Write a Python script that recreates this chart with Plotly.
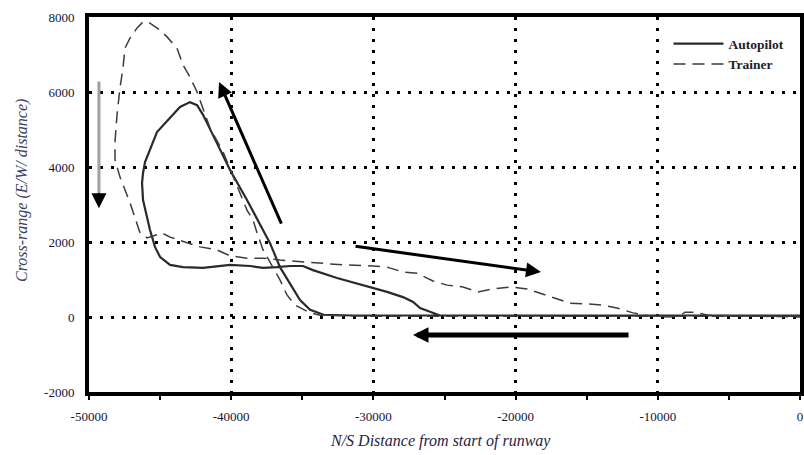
import plotly.graph_objects as go

# ---- data ----
autopilot_x = [0, -5000, -10000, -15000, -20000, -25000, -30000, -31400, -33500, -34450,
               -35160, -35860, -36570, -37270, -37760, -38890, -40080, -40790, -41280,
               -41980, -42400, -42900, -43600, -45220, -46060, -46200, -46270, -46200,
               -45710, -45360, -45000, -44300, -43390, -41980, -41000, -40080, -38680,
               -37760, -36780, -35860, -34950, -34250, -32560, -30240, -29040, -27920,
               -27210, -26720, -26020, -25320, -20000, -15000, -10000, -5000, 0]
autopilot_y = [40, 40, 30, 40, 40, 30, 40, 40, 60, 190,
               450, 900, 1330, 1970, 2320, 3120, 3920, 4450, 4850,
               5390, 5650, 5730, 5600, 4930, 4130, 3840, 3570, 3120,
               2320, 1870, 1600, 1390, 1330, 1310, 1360, 1390, 1360,
               1310, 1330, 1360, 1360, 1250, 1040, 800, 670, 530,
               400, 240, 130, 40, 40, 30, 40, 40, 40]

trainer_x = [0, -10000, -20000, -30000, -33750, -34460, -35510, -36080, -36570, -37060,
             -37760, -38180, -38470, -38890, -39730, -40570, -41490, -42050, -42400,
             -42900, -43390, -43810, -44510, -45010, -45500, -45850, -46200, -46620,
             -47110, -47470, -47610, -47820, -48030, -48170, -48170, -47820, -47110,
             -46410, -45920, -45220, -44860, -44300, -42900, -42190, -41000, -40080,
             -38890, -37760, -36570, -35650, -34460, -33540, -32140, -30030, -29040,
             -27920, -26930, -25810, -24820, -23700, -22640, -21590, -20390, -19200,
             -18280, -17090, -16170, -14980, -13920, -12870, -11740, -10550, -9140,
             -8440, -8090, -7520, -6470, -4430, 0]
trainer_y = [20, 20, 20, 20, 50, 110, 320, 590, 990, 1330,
             1790, 2240, 2590, 2850, 3650, 4400, 5040, 5650, 6000,
             6400, 6720, 7170, 7470, 7650, 7790, 7870, 7870, 7710,
             7440, 7170, 6640, 6110, 5390, 4670, 4190, 3730, 3040,
             2240, 2110, 2190, 2240, 2130, 1970, 1870, 1790, 1630,
             1570, 1570, 1520, 1490, 1470, 1440, 1390, 1360, 1330,
             1200, 1170, 960, 850, 800, 670, 750, 800, 750,
             640, 480, 370, 350, 320, 240, 110, 30, 0,
             30, 130, 130, 50, 30, 0]

x_ticks = [-50000, -40000, -30000, -20000, -10000, 0]
y_ticks = [-2000, 0, 2000, 4000, 6000, 8000]

# direction arrows: (tail_x, tail_y, tip_x, tip_y)
arrow_diag = (-36425, 2450, -40856, 6270)
arrow_right = (-31363, 1890, -18213, 1200)
arrow_left = (-11954, -480, -27214, -480)
arrow_down = (-49300, 6320, -49300, 2900)

SERIF = "Liberation Serif, Times New Roman, serif"

fig = go.Figure()
fig.add_trace(go.Scatter(x=autopilot_x, y=autopilot_y, mode="lines", name="Autopilot",
                         line=dict(color="#2a2a2a", width=2.2)))
fig.add_trace(go.Scatter(x=trainer_x, y=trainer_y, mode="lines", name="Trainer",
                         line=dict(color="#3c3c3c", width=1.5, dash="12px,7px")))

ann = []
for (tx, ty, hx, hy), w, s in [(arrow_diag, 3, 1.0), (arrow_right, 3, 1.0), (arrow_left, 5, 0.62)]:
    ann.append(dict(x=hx, y=hy, ax=tx, ay=ty, xref="x", yref="y", axref="x", ayref="y",
                    text="", showarrow=True, arrowhead=2, arrowwidth=w, arrowsize=s,
                    arrowcolor="#000000"))
# grey shaft + black head for the down arrow
tx, ty, hx, hy = arrow_down
ann.append(dict(x=hx, y=hy + 300, ax=tx, ay=ty, xref="x", yref="y", axref="x", ayref="y",
                text="", showarrow=True, arrowhead=0, arrowwidth=3, arrowcolor="#a0a0a0"))
ann.append(dict(x=hx, y=hy, ax=tx, ay=hy + 450, xref="x", yref="y", axref="x", ayref="y",
                text="", showarrow=True, arrowhead=2, arrowwidth=2, arrowsize=1.5,
                arrowcolor="#000000"))
# axis titles
ann.append(dict(text="N/S Distance from start of runway", xref="paper", yref="paper",
                x=0.4937, y=-0.1307, xanchor="center", yanchor="middle", showarrow=False,
                font=dict(family=SERIF, size=16, color="#1f2445", style="italic")))
ann.append(dict(text="Cross-range (E/W/ distance)", xref="paper", yref="paper",
                x=-0.0942, y=0.536, xanchor="center", yanchor="middle", showarrow=False,
                textangle=-90,
                font=dict(family=SERIF, size=16, color="#3c4262", style="italic")))

fig.update_layout(
    width=804, height=455,
    margin=dict(l=89, r=4, t=17, b=63, autoexpand=False),
    plot_bgcolor="white", paper_bgcolor="white",
    annotations=ann,
    showlegend=True,
    legend=dict(x=0.815, y=0.97, xanchor="left", yanchor="top",
                bgcolor="rgba(0,0,0,0)", itemwidth=50, tracegroupgap=0,
                font=dict(family=SERIF, size=13.5, color="#222222", weight="bold")),
    xaxis=dict(range=[-50000, 0], tickvals=x_ticks, ticktext=[str(v) for v in x_ticks],
               automargin=False,
               showline=True, linewidth=4, linecolor="black", mirror=True,
               showgrid=True, gridcolor="black", gridwidth=3, griddash="3px,8px",
               zeroline=False, ticks="outside", ticklen=4, tickwidth=2, tickcolor="black",
               minor=dict(ticks="outside", dtick=5000, tick0=0, ticklen=4, tickwidth=2,
                          tickcolor="black", showgrid=False),
               ticklabelstandoff=5,
               tickfont=dict(family=SERIF, size=13, color="#141438")),
    yaxis=dict(range=[-2000, 8000], tickvals=y_ticks, ticktext=[str(v) for v in y_ticks],
               automargin=False,
               showline=True, linewidth=4, linecolor="black", mirror=True,
               showgrid=True, gridcolor="black", gridwidth=3, griddash="3px,8px",
               zeroline=False, ticks="", ticklabelstandoff=8,
               tickfont=dict(family=SERIF, size=13, color="#141438")),
)

fig.write_html("out.html", config={"displayModeBar": False},
               post_script="document.body.style.margin='0';document.body.style.overflow='hidden';")
